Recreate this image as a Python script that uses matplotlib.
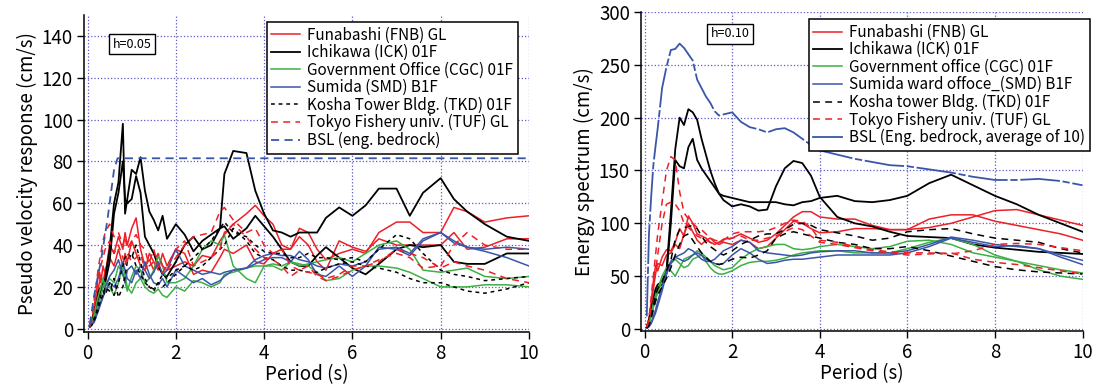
import numpy as np
import matplotlib
matplotlib.use('Agg')
import matplotlib.pyplot as plt

plt.rcParams['font.family'] = ['Noto Sans CJK JP', 'DejaVu Sans']

# ---------------- left panel: pseudo velocity response (h=0.05) ----------------
T1 = [0.05, 0.1, 0.15, 0.2, 0.25, 0.3, 0.35, 0.4, 0.5, 0.6, 0.7, 0.8, 0.85, 0.9, 1.0, 1.1,
      1.2, 1.3, 1.4, 1.5, 1.6, 1.7, 1.8, 2.0, 2.2, 2.4, 2.6, 2.8, 3.0, 3.1, 3.3, 3.6, 3.8,
      4.0, 4.2, 4.4, 4.6, 4.8, 5.0, 5.2, 5.4, 5.7, 6.0, 6.3, 6.6, 7.0, 7.3, 7.6, 8.0, 8.3,
      8.6, 9.0, 9.5, 10.0]

fnb_v1 = [1, 4, 10, 18, 28, 22, 30, 26, 40, 36, 44, 38, 46, 40, 48, 53, 38, 30, 33, 28, 35, 30,
          28, 30, 32, 30, 35, 34, 42, 45, 50, 55, 59, 54, 50, 40, 38, 48, 46, 38, 33, 36, 38, 36,
          46, 51, 51, 46, 46, 58, 56, 51, 53, 54]
fnb_v2 = [1, 3, 8, 14, 20, 26, 22, 28, 34, 30, 38, 30, 36, 32, 42, 36, 30, 28, 36, 32, 28, 36,
          30, 38, 36, 26, 28, 27, 34, 38, 36, 40, 32, 31, 36, 38, 38, 44, 40, 32, 28, 42, 39, 37,
          43, 40, 40, 40, 40, 46, 38, 39, 43, 43]
ick_v1 = [1, 3, 8, 12, 18, 20, 22, 24, 38, 60, 70, 98, 55, 62, 76, 74, 82, 66, 56, 52, 47, 54,
          43, 50, 45, 37, 42, 45, 48, 74, 85, 84, 66, 55, 47, 46, 44, 46, 46, 46, 53, 58, 54, 59,
          67, 67, 54, 65, 72, 62, 56, 50, 44, 42]
ick_v2 = [1, 2, 6, 10, 15, 18, 20, 22, 32, 55, 65, 80, 62, 60, 62, 73, 65, 44, 40, 36, 30, 26,
          25, 32, 40, 44, 38, 40, 48, 49, 43, 48, 54, 49, 44, 38, 32, 30, 30, 35, 39, 34, 29, 26,
          31, 38, 40, 39, 40, 32, 31, 31, 36, 36]
cgc_v1 = [1, 3, 7, 12, 16, 20, 24, 20, 24, 22, 30, 26, 22, 18, 25, 30, 28, 22, 24, 28, 35, 30,
          22, 22, 24, 30, 38, 42, 40, 45, 30, 24, 22, 30, 30, 28, 32, 30, 31, 32, 33, 34, 32, 36,
          40, 42, 38, 28, 27, 28, 29, 25, 24, 25]
cgc_v2 = [1, 2, 5, 9, 12, 16, 20, 22, 20, 16, 22, 30, 25, 20, 17, 22, 24, 20, 18, 17, 19, 16,
          15, 20, 18, 23, 22, 20, 22, 26, 27, 29, 30, 30, 31, 30, 32, 31, 30, 27, 23, 24, 28, 30,
          30, 29, 27, 24, 20, 20, 20, 21, 21, 20]
smd_v1 = [1, 2, 4, 7, 10, 13, 16, 20, 25, 28, 33, 26, 22, 28, 30, 26, 30, 28, 24, 27, 32, 26,
          28, 38, 30, 28, 26, 27, 26, 27, 28, 29, 33, 35, 36, 35, 35, 33, 32, 30, 29, 31, 30, 32,
          38, 39, 36, 43, 46, 41, 39, 38, 39, 38]
smd_v2 = [1, 2, 3, 6, 9, 12, 15, 18, 22, 20, 24, 32, 28, 24, 22, 28, 24, 32, 26, 22, 21, 24,
          20, 28, 25, 22, 24, 21, 23, 25, 28, 29, 31, 33, 34, 34, 32, 37, 33, 26, 25, 30, 25, 30,
          39, 38, 35, 42, 46, 42, 39, 37, 34, 30]
tkd_v1 = [1, 2, 5, 8, 12, 16, 18, 16, 22, 16, 22, 30, 34, 36, 34, 40, 32, 24, 20, 18, 22, 20,
          22, 26, 30, 34, 38, 42, 48, 51, 46, 44, 40, 37, 36, 36, 34, 34, 36, 34, 34, 33, 34, 32,
          38, 45, 43, 36, 28, 26, 25, 23, 24, 25]
tkd_v2 = [1, 2, 4, 6, 10, 14, 16, 20, 18, 24, 15, 20, 25, 32, 36, 30, 26, 22, 20, 19, 22, 26,
          24, 28, 30, 28, 30, 34, 38, 40, 48, 42, 36, 34, 33, 30, 28, 28, 27, 27, 29, 31, 32, 30,
          29, 27, 24, 22, 22, 20, 18, 17, 19, 22]
tuf_v1 = [2, 6, 14, 22, 30, 36, 42, 46, 50, 44, 46, 40, 44, 38, 42, 45, 40, 38, 30, 32, 36, 30,
          28, 34, 40, 44, 45, 46, 56, 58, 52, 46, 48, 40, 36, 38, 30, 28, 27, 26, 24, 26, 30, 30,
          33, 36, 34, 29, 30, 40, 46, 40, 38, 38]
tuf_v2 = [1, 4, 10, 18, 24, 30, 34, 38, 42, 36, 40, 34, 30, 36, 32, 34, 36, 28, 32, 38, 30, 27,
          30, 38, 42, 30, 32, 34, 38, 46, 50, 44, 38, 34, 33, 30, 25, 28, 30, 25, 23, 25, 28, 30,
          32, 38, 36, 34, 29, 32, 30, 28, 24, 22]
bsl_t1 = [0.05, 0.15, 0.3, 0.45, 0.6, 0.68, 10.0]
bsl_v1 = [2, 16, 32, 52, 76, 81.5, 81.5]

# ---------------- right panel: energy spectrum (h=0.10) ----------------
T2 = [0.05, 0.1, 0.15, 0.2, 0.25, 0.3, 0.4, 0.5, 0.6, 0.7, 0.8, 0.9, 1.0, 1.1, 1.2, 1.3, 1.4,
      1.5, 1.6, 1.7, 1.8, 2.0, 2.2, 2.4, 2.6, 2.8, 3.0, 3.2, 3.4, 3.6, 3.8, 4.0, 4.4, 4.8, 5.2,
      5.6, 6.0, 6.5, 7.0, 7.5, 8.0, 8.5, 9.0, 9.5, 10.0]

fnb_e1 = [3, 10, 25, 45, 60, 55, 68, 75, 74, 82, 95, 88, 107, 100, 90, 88, 86, 82, 80, 82, 85,
          86, 90, 86, 82, 84, 90, 98, 106, 111, 111, 106, 104, 104, 98, 94, 94, 104, 108, 108,
          102, 98, 94, 90, 84]
fnb_e2 = [2, 8, 20, 38, 52, 62, 60, 70, 72, 80, 76, 90, 100, 92, 84, 80, 84, 86, 82, 80, 82,
          80, 84, 82, 76, 78, 86, 94, 102, 100, 95, 91, 92, 95, 95, 94, 94, 96, 100, 106, 112,
          113, 108, 103, 98]
ick_e1 = [2, 8, 18, 28, 38, 42, 45, 55, 110, 170, 200, 193, 208, 205, 198, 180, 165, 150, 138,
          128, 122, 116, 118, 116, 112, 113, 135, 152, 159, 157, 145, 125, 106, 100, 97, 92, 88,
          87, 86, 80, 77, 75, 73, 72, 71]
ick_e2 = [1, 6, 14, 22, 32, 40, 42, 52, 100, 160, 154, 152, 172, 180, 160, 152, 146, 140, 134,
          128, 126, 124, 122, 120, 120, 120, 120, 118, 117, 120, 121, 124, 126, 121, 120, 122,
          126, 138, 146, 136, 126, 118, 108, 100, 92]
cgc_e1 = [1, 5, 14, 24, 32, 38, 50, 58, 55, 50, 58, 66, 68, 70, 74, 72, 68, 64, 60, 58, 56, 58,
          66, 72, 76, 78, 80, 80, 76, 75, 76, 78, 80, 78, 76, 78, 83, 84, 80, 72, 68, 64, 60, 56,
          53]
cgc_e2 = [1, 4, 12, 20, 28, 34, 46, 54, 62, 66, 62, 58, 60, 66, 68, 70, 64, 58, 54, 52, 52, 55,
          60, 63, 64, 64, 65, 67, 70, 72, 73, 74, 74, 72, 72, 72, 76, 82, 86, 80, 70, 64, 56, 50,
          47]
smd_e1 = [1, 3, 6, 12, 18, 26, 40, 56, 64, 68, 70, 72, 76, 74, 70, 66, 64, 64, 66, 70, 74, 78,
          84, 82, 74, 72, 71, 70, 69, 70, 72, 73, 74, 74, 72, 72, 74, 80, 87, 84, 80, 78, 76, 70,
          65]
smd_e2 = [1, 2, 5, 10, 15, 22, 36, 52, 62, 68, 66, 64, 66, 70, 72, 70, 66, 64, 62, 61, 62, 70,
          76, 72, 66, 62, 63, 65, 66, 66, 67, 68, 70, 70, 70, 70, 72, 78, 86, 82, 78, 79, 76, 68,
          61]
tkd_e1 = [1, 4, 12, 22, 32, 38, 45, 55, 65, 85, 94, 96, 97, 98, 95, 88, 82, 78, 75, 72, 70, 74,
          80, 84, 88, 90, 90, 94, 99, 100, 98, 94, 91, 88, 84, 86, 92, 94, 95, 90, 86, 84, 82,
          76, 72]
tkd_e2 = [1, 3, 10, 18, 26, 32, 40, 48, 58, 70, 80, 88, 90, 84, 78, 72, 68, 64, 62, 61, 62, 66,
          68, 67, 70, 74, 86, 90, 92, 90, 88, 86, 82, 80, 76, 76, 78, 74, 69, 64, 59, 56, 54, 53,
          52]
tuf_e1 = [2, 10, 30, 50, 70, 90, 120, 150, 163, 160, 130, 110, 104, 100, 96, 94, 90, 86, 84,
          83, 84, 90, 92, 92, 92, 93, 96, 100, 103, 102, 96, 84, 82, 78, 75, 73, 72, 72, 71, 74,
          80, 81, 80, 77, 74]
tuf_e2 = [2, 8, 22, 40, 55, 70, 100, 118, 120, 118, 112, 100, 96, 92, 88, 86, 84, 82, 80, 82,
          83, 86, 88, 84, 84, 86, 88, 92, 96, 94, 88, 82, 80, 77, 74, 72, 70, 71, 72, 66, 63, 61,
          58, 55, 52]
bsl_e = [12, 90, 125, 155, 173, 190, 228, 248, 264, 265, 270, 266, 260, 254, 236, 228, 220,
         214, 206, 202, 203, 205, 196, 191, 189, 186, 189, 190, 186, 180, 174, 169, 165, 161,
         158, 155, 154, 151, 148, 144, 141, 141, 142, 140, 136]

RED = '#ec2027'
BLACK = '#000000'
GREEN = '#3cb043'
BLUE = '#3a56a8'
GRID = '#5a5ac8'

LW = 1.1
FS = 13.5

fig = plt.figure(figsize=(10.94, 3.85), dpi=100)
ax1 = fig.add_axes([0.0768, 0.138, 0.4067, 0.823])
ax2 = fig.add_axes([0.586, 0.140, 0.4035, 0.829])


def style_axes(ax, ylim, yticks):
    ax.set_xlim(-0.08, 10)
    ax.set_ylim(*ylim)
    ax.set_xticks([0, 2, 4, 6, 8, 10])
    ax.set_yticks(yticks)
    ax.grid(True, linestyle=':', color=GRID, linewidth=0.9)
    ax.set_axisbelow(True)
    for s in ['top', 'right']:
        ax.spines[s].set_visible(False)
    for s in ['left', 'bottom']:
        ax.spines[s].set_linewidth(1.1)
    ax.tick_params(direction='out', length=5, width=1.0, labelsize=FS, pad=3)
    ax.set_xlabel('Period (s)', fontsize=FS, labelpad=0)


def add_legend(ax, anchor):
    leg = ax.legend(loc='upper left', bbox_to_anchor=anchor, fontsize=11,
                    labelspacing=0.03, handlelength=1.85, handletextpad=0.5, borderpad=0.3,
                    fancybox=False, framealpha=1, edgecolor='black', borderaxespad=0)
    leg.get_frame().set_linewidth(1.1)
    return leg


# left
ax1.plot(T1, fnb_v1, color=RED, lw=LW, label='Funabashi (FNB) GL')
ax1.plot(T1, fnb_v2, color=RED, lw=LW)
ax1.plot(T1, ick_v1, color=BLACK, lw=LW + 0.2, label='Ichikawa (ICK) 01F')
ax1.plot(T1, ick_v2, color=BLACK, lw=LW + 0.2)
ax1.plot(T1, cgc_v1, color=GREEN, lw=LW, label='Government Office (CGC) 01F')
ax1.plot(T1, cgc_v2, color=GREEN, lw=LW)
ax1.plot(T1, smd_v1, color=BLUE, lw=LW, label='Sumida (SMD) B1F')
ax1.plot(T1, smd_v2, color=BLUE, lw=LW)
ax1.plot(T1, tkd_v1, color=BLACK, lw=LW, ls=(0, (2.5, 2.5)), label='Kosha Tower Bldg. (TKD) 01F')
ax1.plot(T1, tkd_v2, color=BLACK, lw=LW, ls=(0, (2.5, 2.5)))
ax1.plot(T1, tuf_v1, color=RED, lw=LW, ls=(0, (4.5, 3.5)), label='Tokyo Fishery univ. (TUF) GL')
ax1.plot(T1, tuf_v2, color=RED, lw=LW, ls=(0, (4.5, 3.5)))
ax1.plot(bsl_t1, bsl_v1, color=BLUE, lw=LW + 0.2, ls=(0, (4.5, 3)), label='BSL (eng. bedrock)')
style_axes(ax1, (-1.5, 150), [0, 20, 40, 60, 80, 100, 120, 140])
ax1.set_ylabel('Pseudo velocity response (cm/s)', fontsize=FS, labelpad=3)
ax1.text(0.108, 0.908, 'h=0.05', transform=ax1.transAxes, ha='center', va='center',
         fontsize=9, bbox=dict(boxstyle='square,pad=0.3', fc='white', ec='black', lw=1.0))
add_legend(ax1, (0.411, 0.978))

# right
ax2.plot(T2, fnb_e1, color=RED, lw=LW, label='Funabashi (FNB) GL')
ax2.plot(T2, fnb_e2, color=RED, lw=LW)
ax2.plot(T2, ick_e1, color=BLACK, lw=LW + 0.2, label='Ichikawa (ICK) 01F')
ax2.plot(T2, ick_e2, color=BLACK, lw=LW + 0.2)
ax2.plot(T2, cgc_e1, color=GREEN, lw=LW, label='Government office (CGC) 01F')
ax2.plot(T2, cgc_e2, color=GREEN, lw=LW)
ax2.plot(T2, smd_e1, color=BLUE, lw=LW, label='Sumida ward offoce_(SMD) B1F')
ax2.plot(T2, smd_e2, color=BLUE, lw=LW)
ax2.plot(T2, tkd_e1, color=BLACK, lw=LW, ls=(0, (4.5, 3.5)), label='Kosha tower Bldg. (TKD) 01F')
ax2.plot(T2, tkd_e2, color=BLACK, lw=LW, ls=(0, (4.5, 3.5)))
ax2.plot(T2, tuf_e1, color=RED, lw=LW, ls=(0, (4.5, 3.5)), label='Tokyo Fishery univ. (TUF) GL')
ax2.plot(T2, tuf_e2, color=RED, lw=LW, ls=(0, (4.5, 3.5)))
ax2.plot(T2, bsl_e, color=BLUE, lw=LW + 0.2, ls=(0, (22, 1.5, 4, 1.5)),
         label='BSL (Eng. bedrock, average of 10)')
style_axes(ax2, (-2, 300), [0, 50, 100, 150, 200, 250, 300])
ax2.set_ylabel('Energy spectrum (cm/s)', fontsize=FS, labelpad=3)
ax2.text(0.202, 0.931, 'h=0.10', transform=ax2.transAxes, ha='center', va='center',
         fontsize=9, bbox=dict(boxstyle='square,pad=0.3', fc='white', ec='black', lw=1.0))
leg2 = add_legend(ax2, (0.38, 0.977))
# legend handle for BSL drawn solid as in the reference
leg2.get_lines()[-1].set_linestyle('-')

fig.savefig('out.png', dpi=100)
